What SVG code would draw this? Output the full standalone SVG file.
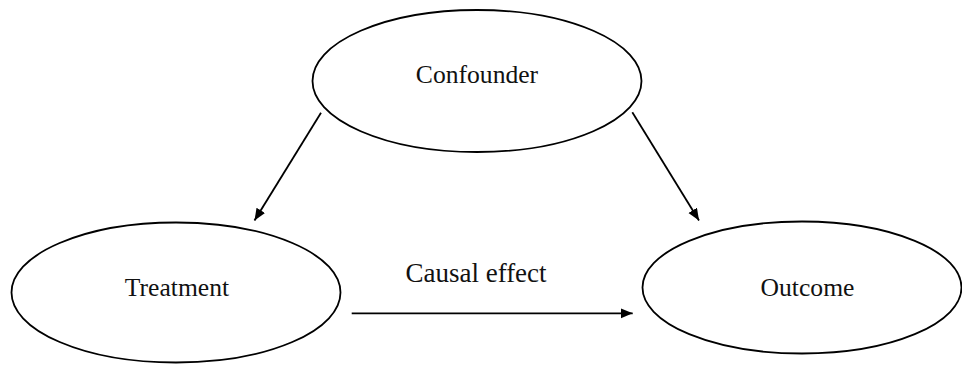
<svg xmlns="http://www.w3.org/2000/svg" width="962" height="365" viewBox="0 0 962 365">
<style>
.node ellipse{fill:#fff;stroke:#000;stroke-width:1.8}
.lbl{font-family:"Liberation Serif","Times New Roman",serif;font-size:25.6px;fill:#111;text-anchor:middle}
.conn line{stroke:#000;stroke-width:1.8;marker-end:url(#arr)}
</style>
<defs>
<marker id="arr" markerUnits="userSpaceOnUse" markerWidth="13" markerHeight="11" refX="12" refY="5" orient="auto">
<path d="M0,0 L12,5 L0,10 z" fill="#000"/>
</marker>
</defs>
<rect width="962" height="365" fill="#fff"/>
<g id="confounder" class="node">
<ellipse cx="477" cy="81" rx="164.5" ry="71"/>
<text class="lbl" x="477" y="83">Confounder</text>
</g>
<g id="treatment" class="node">
<ellipse cx="176" cy="292.5" rx="164.5" ry="70"/>
<text class="lbl" x="177" y="296">Treatment</text>
</g>
<g id="outcome" class="node">
<ellipse cx="802" cy="287.5" rx="159.5" ry="66"/>
<text class="lbl" x="807.5" y="296">Outcome</text>
</g>
<g id="connectors" class="conn">
<line x1="321" y1="112.7" x2="254.5" y2="220.5"/>
<line x1="632.3" y1="112.3" x2="699" y2="220.5"/>
<line x1="351.7" y1="313.3" x2="632.7" y2="313.3"/>
</g>
<text class="lbl" x="476" y="282.3" style="font-size:27px">Causal effect</text>
</svg>
